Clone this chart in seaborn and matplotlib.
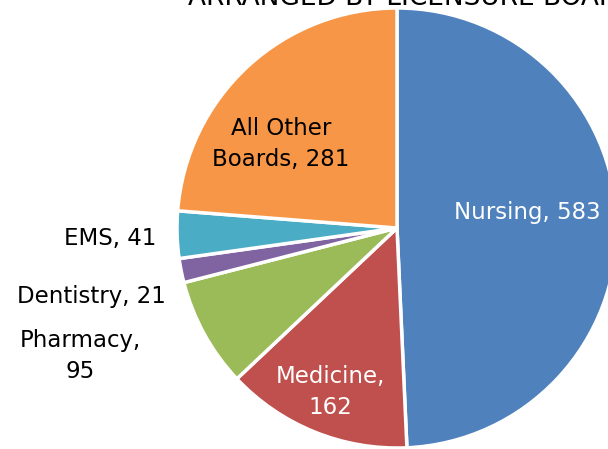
import matplotlib
matplotlib.use("Agg")
import matplotlib.pyplot as plt
import seaborn as sns
import numpy as np

boards = ["Nursing", "Medicine", "Pharmacy", "Dentistry", "EMS", "All Other Boards"]
counts = [583, 162, 95, 21, 41, 281]
colors = ["#4F81BD", "#C0504D", "#9BBB59", "#8064A2", "#4BACC6", "#F79646"]
label_texts = ["Nursing, 583", "Medicine,\n162", "Pharmacy,\n95", "Dentistry, 21", "EMS, 41", "All Other\nBoards, 281"]
title_text = "ARRANGED BY LICENSURE BOARD"

sns.set_theme(style="white")
plt.rcParams['font.family'] = ['DejaVu Sans']

W, H = 608, 449
fig = plt.figure(figsize=(W / 100, H / 100), dpi=100)
ax = fig.add_axes([0, 0, 1, 1])

R = 220.0
cx, cy = 397.0, 228.0

ax.pie(counts, colors=colors, startangle=90, counterclock=False,
       radius=1.0, center=(0, 0),
       wedgeprops=dict(edgecolor="white", linewidth=2.5))

ax.set_xlim(-cx / R, (W - cx) / R)
ax.set_ylim(-(H - cy) / R, cy / R)
ax.set_aspect("auto")
ax.axis("off")

def px(x, y):
    return (x - cx) / R, (cy - y) / R

fs = 16.5
# label positions (pixel coords in the picture), text colours
label_pos = [(527, 213, "white"),
             (330, 392, "white"),
             (80, 356, "black"),
             (91, 297, "black"),
             (110, 238, "black"),
             (281, 144, "black")]
for txt, (x, y, c) in zip(label_texts, label_pos):
    X, Y = px(x, y)
    ax.text(X, Y, txt, color=c, fontsize=fs, ha="center", va="center",
            linespacing=1.4)

X, Y = px(188, 5)
ax.text(X, Y, title_text, fontsize=19, color="black", ha="left", va="baseline")

fig.savefig("out.png", dpi=100)
